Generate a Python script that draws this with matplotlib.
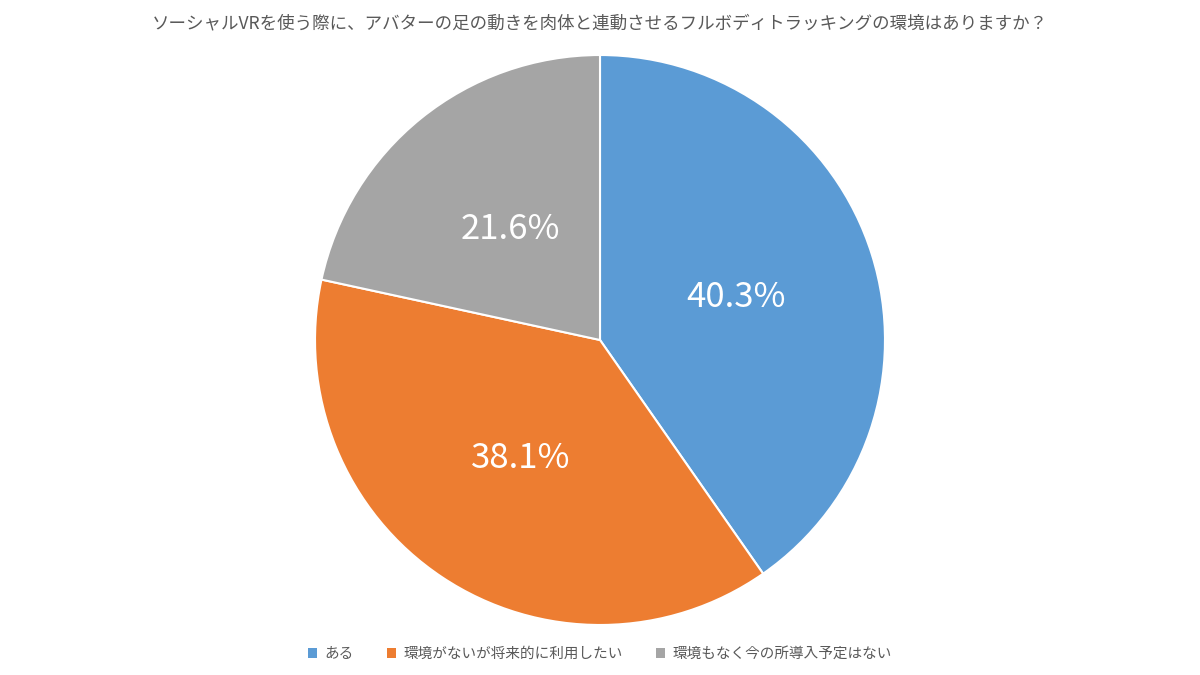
import matplotlib
matplotlib.use('Agg')
import matplotlib.pyplot as plt
from matplotlib.patches import Patch

plt.rcParams['font.family'] = ['Noto Sans CJK JP', 'DejaVu Sans']

title = 'ソーシャルVRを使う際に、アバターの足の動きを肉体と連動させるフルボディトラッキングの環境はありますか？'
labels = ['ある', '環境がないが将来的に利用したい', '環境もなく今の所導入予定はない']
values = [40.3, 38.1, 21.6]
colors = ['#5B9BD5', '#ED7D31', '#A5A5A5']

fig = plt.figure(figsize=(12, 6.75), dpi=100)
ax = fig.add_axes([0.2625, 0.0741, 0.475, 0.8444])

wedges, texts, autotexts = ax.pie(
    values, colors=colors, startangle=90, counterclock=False,
    autopct='%.1f%%', pctdistance=0.5, radius=1.0,
    wedgeprops={'edgecolor': 'white', 'linewidth': 1.5},
    textprops={'color': 'white', 'fontsize': 25})
ax.set_xlim(-1, 1)
ax.set_ylim(-1, 1)
ax.set_aspect('equal')

fig.text(0.5, 0.965, title, ha='center', va='center', fontsize=12.6, color='#595959')

handles = [Patch(facecolor=c, edgecolor='none') for c in colors]
fig.legend(handles, labels, loc='center', bbox_to_anchor=(0.5, 0.031), ncol=3,
           frameon=False, fontsize=10.5, handlelength=0.6, handleheight=0.6,
           handletextpad=0.5, columnspacing=2.3, labelcolor='#595959')

fig.savefig('out.png', dpi=100)
